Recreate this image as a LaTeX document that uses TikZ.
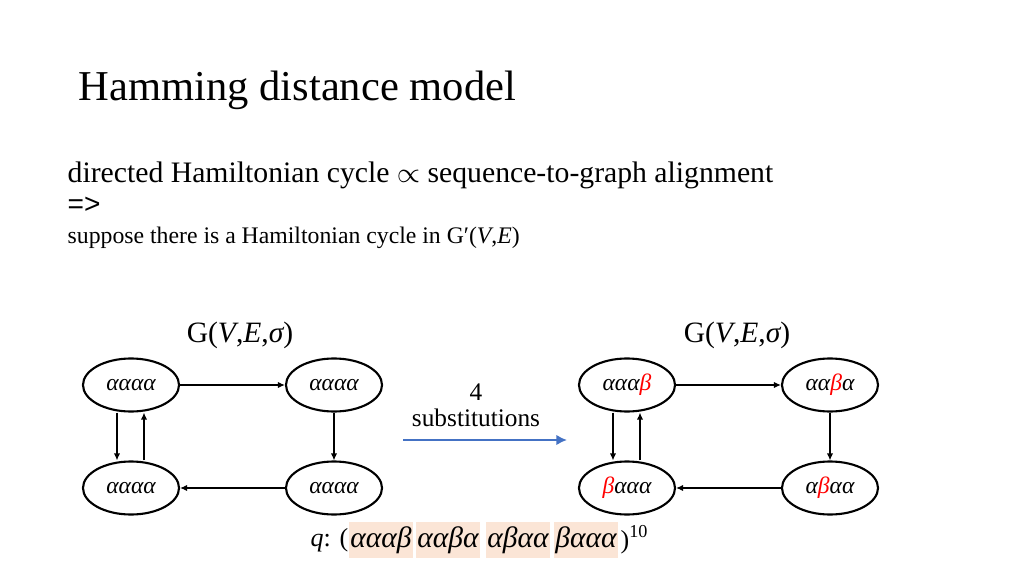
\documentclass[tikz,border=0pt]{standalone}
\usepackage{fontspec}
\setmainfont{Liberation Serif}
\newfontfamily\sansfont{Liberation Sans}
\usetikzlibrary{shapes.geometric,arrows.meta,positioning}
\definecolor{hlpeach}{RGB}{251,229,214}
\definecolor{arrowblue}{RGB}{68,114,196}
\newcommand{\gr}[1]{{\itshape #1}}
\newcommand{\rb}{\textcolor{red}{β}}
\tikzset{
  kmer/.style={ellipse, draw, line width=0.6pt, minimum width=0.96cm, minimum height=0.53cm, inner sep=0pt, font=\fontsize{6.7}{7}\selectfont\itshape},
  edge/.style={-{Latex[length=2pt,width=1.8pt]}, line width=0.35pt},
  hl/.style={fill=hlpeach, minimum height=0.36cm, minimum width=0.64cm, inner sep=0pt, font=\fontsize{8.4}{9}\selectfont\itshape},
}

\begin{document}
\begin{tikzpicture}[x=0.01cm, y=-0.01cm]
    \useasboundingbox (0,0) rectangle (1024,576);
    % Titulo y texto
    \node[anchor=base west, inner sep=0pt, font=\fontsize{12.1}{14}\selectfont] (title) at (78,101) {Hamming distance model};
    \node[anchor=base west, inner sep=0pt, font=\fontsize{8.45}{10}\selectfont] (claim) at (67,183) {directed Hamiltonian cycle $\propto$ sequence-to-graph alignment};
    \node[anchor=base west, inner sep=0pt, font=\fontsize{8}{10}\selectfont\sansfont] (impl) at (67,214) {=>};
    \node[anchor=base west, inner sep=0pt, font=\fontsize{6.75}{8}\selectfont] (supp) at (67,244) {suppose there is a Hamiltonian cycle in G′(\gr{V},\gr{E})};
    % Grafo original
    \node[anchor=base, inner sep=0pt, font=\fontsize{8.4}{10}\selectfont] (gleft) at (240,343) {G(\gr{V},\gr{E},\gr{σ})};
    \node[kmer] (a1) at (131,385) {αααα};
    \node[kmer] (a2) at (334,385) {αααα};
    \node[kmer] (a3) at (334,488) {αααα};
    \node[kmer] (a4) at (131,488) {αααα};
    \draw[edge] (a1) -- (a2);
    \draw[edge] (a2) -- (a3);
    \draw[edge] (a3) -- (a4);
    \draw[edge] ([xshift=-0.14cm]a1.south) -- ([xshift=-0.14cm]a4.north);
    \draw[edge] ([xshift=0.13cm]a4.north) -- ([xshift=0.13cm]a1.south);
    % Sustituciones
    \node[font=\fontsize{7.2}{8}\selectfont, inner sep=0pt] (nsub) at (476,392) {4};
    \node[font=\fontsize{7.2}{8}\selectfont, inner sep=0pt] (subst) at (476,418) {substitutions};
    \coordinate (sstart) at (403,440);
    \coordinate (send) at (567,440);
    \draw[-{Latex[length=3pt,width=3pt]}, line width=0.7pt, arrowblue] (sstart) -- (send);
    % Grafo modificado
    \node[anchor=base, inner sep=0pt, font=\fontsize{8.4}{10}\selectfont] (gright) at (737,343) {G(\gr{V},\gr{E},\gr{σ})};
    \node[kmer] (b1) at (627,385) {ααα\rb};
    \node[kmer] (b2) at (830,385) {αα\rb α};
    \node[kmer] (b3) at (830,488) {α\rb αα};
    \node[kmer] (b4) at (627,488) {\rb ααα};
    \draw[edge] (b1) -- (b2);
    \draw[edge] (b2) -- (b3);
    \draw[edge] (b3) -- (b4);
    \draw[edge] ([xshift=-0.14cm]b1.south) -- ([xshift=-0.14cm]b4.north);
    \draw[edge] ([xshift=0.13cm]b4.north) -- ([xshift=0.13cm]b1.south);
    % Secuencia q
    \node[hl] (q1) at (381,540) {αααβ};
    \node[hl] (q2) at (448,540) {ααβα};
    \node[hl] (q3) at (518,540) {αβαα};
    \node[hl] (q4) at (586,540) {βααα};
    \node[anchor=east, inner sep=0pt, font=\fontsize{7.4}{8}\selectfont] (qlab) at (349,540) {\gr{q}: (};
    \node[anchor=west, inner sep=0pt, font=\fontsize{7.4}{8}\selectfont] (qexp) at (620,540) {)\textsuperscript{10}};
\end{tikzpicture}
\end{document}
